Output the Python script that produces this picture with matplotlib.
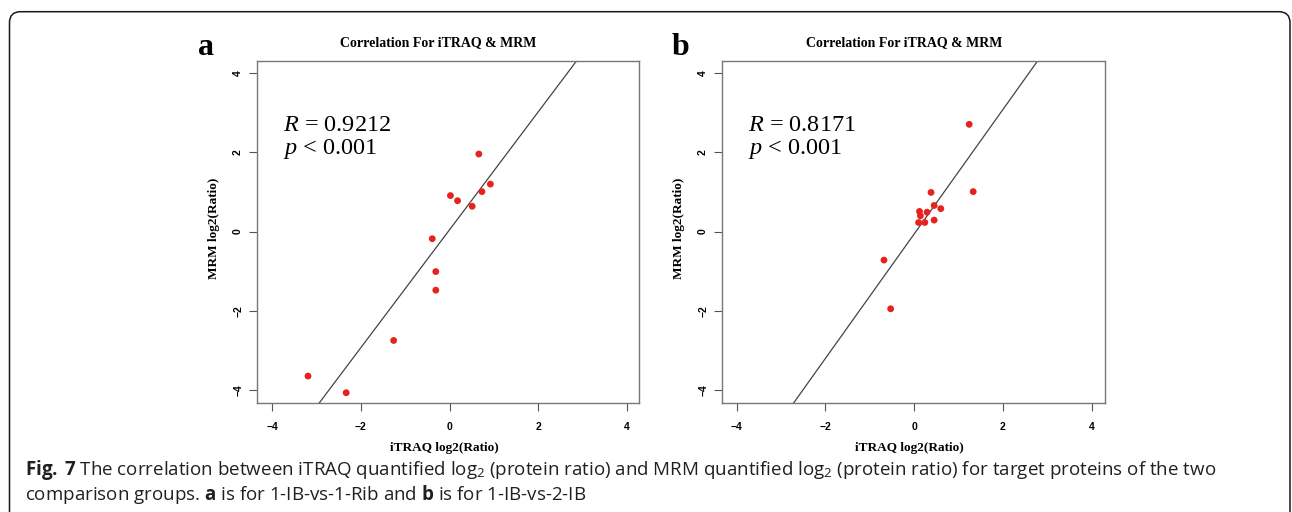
import numpy as np
import matplotlib.pyplot as plt
from matplotlib.patches import FancyBboxPatch
from matplotlib.transforms import IdentityTransform

plt.rcParams['mathtext.fontset'] = 'custom'
plt.rcParams['mathtext.rm'] = 'Open Sans'
plt.rcParams['mathtext.it'] = 'Liberation Serif:italic'
plt.rcParams['mathtext.bf'] = 'Open Sans:bold'

# panel a: 1-IB-vs-1-Rib
itraq_a = [0.66, 0.73, 0.92, 0.02, 0.18, 0.51, -0.39, -0.31, -0.31, -1.26, -3.19, -2.33]
mrm_a = [1.96, 1.01, 1.20, 0.91, 0.78, 0.64, -0.18, -1.01, -1.48, -2.75, -3.65, -4.07]
fit_a = (1.49, 0.047)      # slope, intercept
stat_a = ('0.9212', '0.001')

# panel b: 1-IB-vs-2-IB
itraq_b = [1.24, 1.33, 0.38, 0.45, 0.60, 0.29, 0.12, 0.14, 0.10, 0.24, 0.45, -0.68, -0.53]
mrm_b = [2.71, 1.01, 0.99, 0.66, 0.58, 0.49, 0.51, 0.40, 0.23, 0.23, 0.29, -0.72, -1.95]
fit_b = (1.572, -0.06)
stat_b = ('0.8171', '0.001')

ticks = [-4, -2, 0, 2, 4]
W, H = 1292, 512

fig = plt.figure(figsize=(W / 100, H / 100), dpi=100)

# rounded frame round the whole figure
frame = FancyBboxPatch((9.5, -30), 1280.5, H - 11.7 + 30,
                       boxstyle='round,pad=0,rounding_size=11',
                       transform=IdentityTransform(), fill=False,
                       edgecolor='#1a1a1a', linewidth=1.1)
fig.add_artist(frame)


def panel(left, width, xs, ys, fit, stat, letter, letter_x, xlim):
    ax = fig.add_axes([left / W, (H - 403) / H, width / W, 342 / H])
    ax.scatter(xs, ys, s=24, color='#e5231c', edgecolors='none', zorder=3)
    ax.axline((0, fit[1]), slope=fit[0], color='#444444', linewidth=0.9)
    ax.set_xlim(*xlim)
    ax.set_ylim(-4.33, 4.31)
    ax.set_xticks(ticks)
    ax.set_yticks(ticks)
    for sp in ax.spines.values():
        sp.set_color('#777777')
        sp.set_linewidth(1.0)
    ax.tick_params(axis='both', length=5.5, width=0.8, color='#555555',
                   labelsize=7.5)
    ax.tick_params(axis='x', pad=8)
    ax.tick_params(axis='y', pad=4.5)
    for lab in ax.get_xticklabels():
        lab.set_fontfamily('Liberation Sans')
        lab.set_fontweight('bold')
    for lab in ax.get_yticklabels():
        lab.set_fontfamily('Liberation Sans')
        lab.set_fontweight('bold')
        lab.set_rotation(90)
        lab.set_va('center')

    ax.set_title('Correlation For iTRAQ & MRM', fontfamily='Liberation Serif',
                 fontweight='bold', fontsize=10, x=0.475, pad=11)
    ax.set_xlabel('iTRAQ log2(Ratio)', fontfamily='Liberation Serif',
                  fontweight='bold', fontsize=9.5)
    ax.xaxis.set_label_coords(0.49, -0.115)
    ax.set_ylabel('MRM log2(Ratio)', fontfamily='Liberation Serif',
                  fontweight='bold', fontsize=9.5)
    ax.yaxis.set_label_coords(-0.097, 0.51)

    ax.text(-3.75, 2.55, r'$R$ = ' + stat[0], fontfamily='Liberation Serif',
            fontsize=17.5, va='baseline')
    ax.text(-3.75, 1.96, r'$p$ < ' + stat[1], fontfamily='Liberation Serif',
            fontsize=17.5, va='baseline')

    fig.text(letter_x / W, (H - 55) / H, letter, fontfamily='Liberation Serif',
             fontweight='bold', fontsize=23, va='baseline')
    return ax


panel(257, 382, itraq_a, mrm_a, fit_a, stat_a, 'a', 198, (-4.34, 4.27))
panel(722, 383, itraq_b, mrm_b, fit_b, stat_b, 'b', 672, (-4.33, 4.30))

cap1 = (r'$\mathbf{Fig.\ 7}$ The correlation between iTRAQ quantified log$_{2}$ '
        r'(protein ratio) and MRM quantified log$_{2}$ (protein ratio) for target '
        r'proteins of the two')
cap2 = (r'comparison groups. $\mathbf{a}$ is for 1-IB-vs-1-Rib and '
        r'$\mathbf{b}$ is for 1-IB-vs-2-IB')
fig.text(25 / W, (H - 475) / H, cap1, fontfamily='Open Sans', fontsize=13.5,
         color='#231f20', va='baseline')
fig.text(25 / W, (H - 500) / H, cap2, fontfamily='Open Sans', fontsize=13.5,
         color='#231f20', va='baseline')

fig.savefig('out.png', dpi=100)
